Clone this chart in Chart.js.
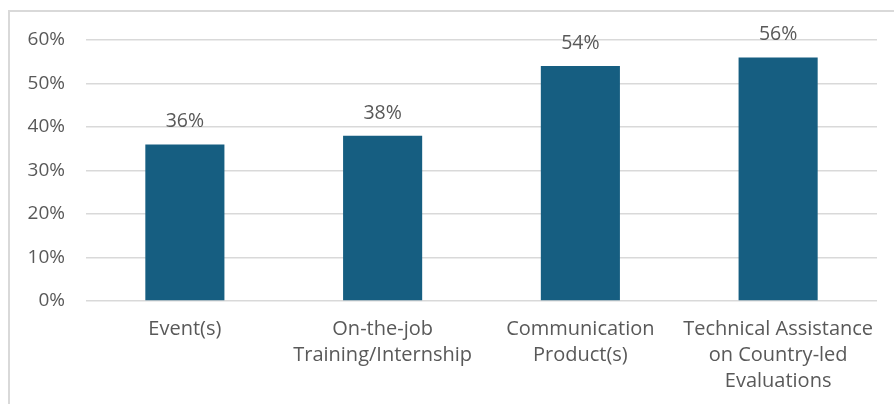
<!DOCTYPE html>
<html lang="en">
<head>
    <meta charset="UTF-8">
    <title>Bar chart</title>
    <style>
        body {
            margin: 0;
            padding: 0;
            background: #ffffff;
            overflow: hidden;
        }

        #frame {
            position: absolute;
            left: 8px;
            top: 10px;
            width: 1000px;
            height: 1000px;
            border: 2px solid #d9d9d9;
        }

        #wrap {
            position: absolute;
            left: 0;
            top: 0;
            width: 894px;
            height: 404px;
        }
    </style>
    <script src="https://cdn.jsdelivr.net/npm/chart.js"></script>
</head>
<body>
    <div id="frame"></div>
    <div id="wrap"><canvas id="barChart" width="894" height="404"></canvas></div>
    <script>
        const categories = [
            ['Event(s)'],
            ['On-the-job', 'Training/Internship'],
            ['Communication', 'Product(s)'],
            ['Technical Assistance', 'on Country-led', 'Evaluations']
        ];
        const shares = [36, 38, 54, 56];
        const yTicks = [0, 10, 20, 30, 40, 50, 60];

        const textColor = '#595959';
        const fontFamily = '"Open Sans", "Liberation Sans", sans-serif';

        // value labels above the bars
        const valueLabels = {
            id: 'valueLabels',
            afterDatasetsDraw(chart) {
                const ctx = chart.ctx;
                const meta = chart.getDatasetMeta(0);
                ctx.save();
                ctx.font = '19.5px ' + fontFamily;
                ctx.fillStyle = textColor;
                ctx.textAlign = 'center';
                ctx.textBaseline = 'alphabetic';
                meta.data.forEach((bar, i) => {
                    ctx.fillText(shares[i] + '%', bar.x, bar.y - 17);
                });
                ctx.restore();
            }
        };

        new Chart(document.getElementById('barChart'), {
            type: 'bar',
            data: {
                labels: categories,
                datasets: [{
                    data: shares,
                    backgroundColor: '#165e81',
                    barPercentage: 0.4,
                    categoryPercentage: 1.0
                }]
            },
            options: {
                responsive: false,
                animation: false,
                layout: { padding: { left: 0, right: 17, top: 40, bottom: 0 } },
                plugins: {
                    legend: { display: false },
                    tooltip: { enabled: false }
                },
                scales: {
                    x: {
                        grid: { display: false },
                        border: { display: false },
                        ticks: {
                            color: textColor,
                            font: { family: fontFamily, size: 20, lineHeight: '26px' },
                            padding: 7,
                            maxRotation: 0,
                            autoSkip: false
                        },
                        afterFit(scale) { scale.height = 103; }
                    },
                    y: {
                        min: 0,
                        max: 60,
                        afterBuildTicks(scale) {
                            scale.ticks = yTicks.map(v => ({ value: v }));
                        },
                        grid: { color: '#d9d9d9', lineWidth: 1.5, drawTicks: false, tickLength: 0 },
                        border: { display: false },
                        ticks: {
                            color: textColor,
                            font: { family: fontFamily, size: 19 },
                            padding: 21,
                            callback: v => v + '%'
                        },
                        afterFit(scale) { scale.width = 86; }
                    }
                }
            },
            plugins: [valueLabels]
        });
    </script>
</body>
</html>
